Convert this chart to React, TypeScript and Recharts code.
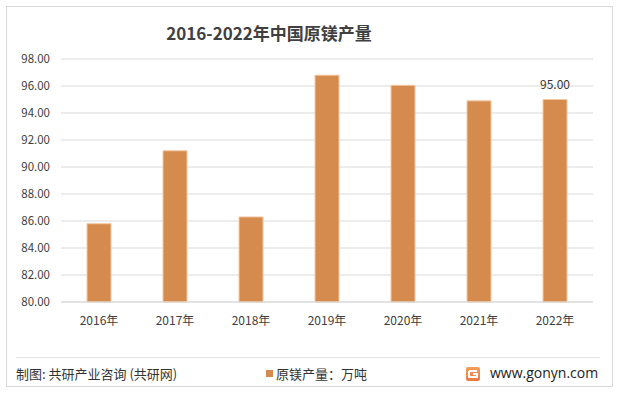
import React from 'react';
import { BarChart, Bar, XAxis, YAxis, CartesianGrid, LabelList } from 'recharts';

const years = ['2016年', '2017年', '2018年', '2019年', '2020年', '2021年', '2022年'];
const output = [85.8, 91.2, 86.3, 96.8, 96.05, 94.9, 95.0];
const yTicks = [80, 82, 84, 86, 88, 90, 92, 94, 96, 98];
const seriesName = '原镁产量：万吨';
const title = '2016-2022年中国原镁产量';

const data = years.map((y, i) => ({ year: y, value: output[i] }));

const FONT = '"Noto Sans CJK SC", "Noto Sans", sans-serif';
const BAR = '#D58B4D';

const LastLabel = (props: any) => {
  const { x, y, width, index, value } = props;
  if (index !== years.length - 1) return null;
  return (
    <text x={x + width / 2} y={y - 11} textAnchor="middle" fontSize={12} fill="#333" fontFamily={FONT}>
      {Number(value).toFixed(2)}
    </text>
  );
};

export default function App() {
  return (
    <div style={{ position: 'absolute', left: 0, top: 0, width: 619, height: 394, background: '#fff', fontFamily: FONT }}>
      <div style={{ position: 'absolute', left: 6, top: 6, width: 607, height: 381, border: '1px solid #D9D9D9', boxSizing: 'border-box' }} />
      <div style={{ position: 'absolute', left: 16, top: 357, width: 584, height: 1, background: '#E3E3E3' }} />
      <div style={{ position: 'absolute', left: 0, top: 20, width: 538, textAlign: 'center', fontSize: 17, fontWeight: 'bold', color: '#404040', fontFamily: FONT }}>
        {title}
      </div>
      <BarChart width={619} height={394} data={data} margin={{ top: 59, right: 26, bottom: 62, left: 6 }} style={{ position: 'absolute', left: 0, top: 0 }}>
        <CartesianGrid vertical={false} stroke="#D9D9D9" />
        <XAxis
          dataKey="year"
          height={30}
          axisLine={{ stroke: '#D9D9D9' }}
          tickLine={false}
          tick={{ fontSize: 12, fill: '#404040', fontFamily: FONT }}
          tickMargin={8}
        />
        <YAxis
          width={55}
          domain={[80, 98]}
          ticks={yTicks}
          interval={0}
          axisLine={false}
          tickLine={false}
          tickFormatter={(v: number) => v.toFixed(2)}
          tick={{ fontSize: 11.5, fill: '#404040', fontFamily: FONT }}
          tickMargin={5}
        />
        <Bar dataKey="value" name={seriesName} fill={BAR} stroke="#F2C7A2" strokeWidth={1} barSize={24} isAnimationActive={false}>
          <LabelList dataKey="value" content={<LastLabel />} />
        </Bar>
      </BarChart>
      <div style={{ position: 'absolute', left: 266, top: 364, display: 'flex', alignItems: 'center', fontFamily: FONT, fontSize: 13, color: '#333' }}>
        <span style={{ display: 'inline-block', width: 7, height: 7, background: BAR, marginRight: 3 }} />
        <span>{seriesName}</span>
      </div>
      <div style={{ position: 'absolute', left: 16, top: 364, fontSize: 13, color: '#333', fontFamily: FONT }}>
        制图: 共研产业咨询 (共研网)
      </div>
      <svg style={{ position: 'absolute', left: 466, top: 367 }} width={14} height={14}>
        <defs>
          <linearGradient id="lg" x1="0" y1="0" x2="0" y2="1">
            <stop offset="0" stopColor="#F5A05A" />
            <stop offset="1" stopColor="#F07840" />
          </linearGradient>
        </defs>
        <rect x={0} y={0} width={14} height={14} rx={2} fill="url(#lg)" />
        <path d="M3 4 H11 M3 4 V10 H11 V7 H7" stroke="#fff" strokeWidth={2} fill="none" />
      </svg>
      <div style={{ position: 'absolute', left: 490, top: 363, fontSize: 14, color: '#222', fontFamily: '"Open Sans", "Noto Sans", sans-serif' }}>
        www.gonyn.com
      </div>
    </div>
  );
}
